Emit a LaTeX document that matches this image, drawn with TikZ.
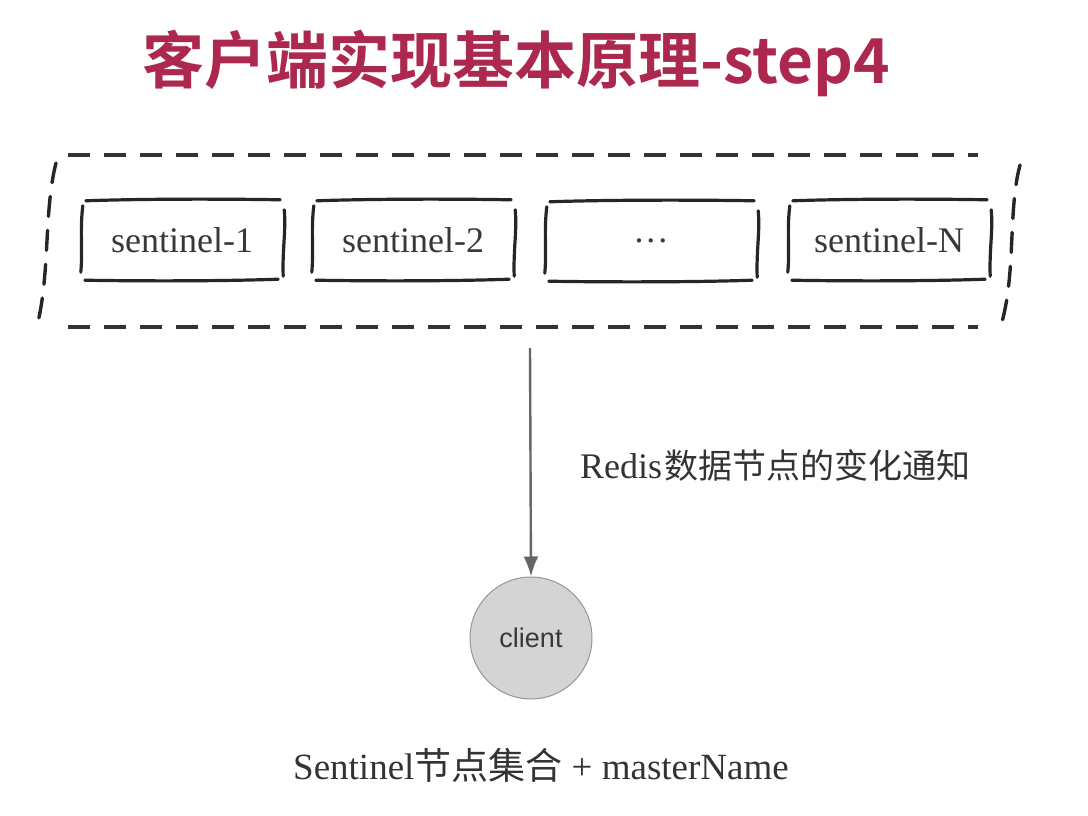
\documentclass[tikz,border=0pt]{standalone}
\usepackage{fontspec}
\usetikzlibrary{arrows.meta}
\setmainfont{Liberation Serif}
\newfontfamily\cjk{Noto Sans CJK SC}
\newfontfamily\cjkb{Noto Sans CJK SC Bold}
\newfontfamily\lsans{Liberation Sans}
\definecolor{titlered}{RGB}{172,40,78}
\definecolor{clientfill}{RGB}{212,212,212}
\definecolor{clientdraw}{RGB}{150,150,150}
\tikzset{
  sk/.style={line width=3.2pt, line cap=round, black!85},
  sbox/.style={minimum width=200pt, minimum height=80pt, inner sep=0pt,
    font=\fontsize{36}{40}\selectfont, text=black!78},
  dashedge/.style={line width=4pt, black!80, dash pattern=on 22pt off 14pt},
  dashside/.style={line width=3.4pt, black!85, dash pattern=on 20pt off 14pt, line cap=round},
  clientnode/.style={circle, fill=clientfill, draw=clientdraw, line width=1pt,
    minimum size=122pt, inner sep=0pt, font=\lsans\fontsize{27}{29}\selectfont, text=black!78},
  lbl/.style={inner sep=0pt, text=black!80}
}
\newcommand{\sketchbox}[1]{%
  \draw[sk] ([xshift=4pt,yshift=-1pt]#1.north west) .. controls ([xshift=60pt,yshift=1pt]#1.north west) and ([xshift=-60pt,yshift=1pt]#1.north east) .. ([xshift=-2pt]#1.north east);
  \draw[sk] ([xshift=3pt]#1.south west) .. controls ([xshift=60pt,yshift=-1pt]#1.south west) and ([xshift=-60pt,yshift=-1pt]#1.south east) .. ([xshift=-4pt,yshift=1pt]#1.south east);
  \draw[sk] ([xshift=1pt,yshift=-6pt]#1.north west) .. controls ([xshift=-2pt,yshift=-30pt]#1.north west) and ([xshift=1pt,yshift=30pt]#1.south west) .. ([xshift=-1pt,yshift=8pt]#1.south west);
  \draw[sk] ([xshift=2pt,yshift=-10pt]#1.north east) .. controls ([xshift=4pt,yshift=-30pt]#1.north east) and ([xshift=0pt,yshift=30pt]#1.south east) .. ([xshift=1pt,yshift=4pt]#1.south east);
}
\begin{document}
\begin{tikzpicture}[x=1pt,y=-1pt]
\useasboundingbox (0,0) rectangle (1088,816);
% title
\node[inner sep=0pt, text=titlered, anchor=west] (title) at (142,63)
  {\cjkb\fontsize{62}{66}\selectfont 客户端实现基本原理-step4};
% outer dashed group
\coordinate (gtl) at (68,155);
\coordinate (gtr) at (978,155);
\coordinate (gbl) at (68,327);
\coordinate (gbr) at (978,327);
\draw[dashedge] (gtl) -- (gtr);
\draw[dashedge] (gbl) -- (gbr);
\coordinate (gl1) at (56,163);
\coordinate (gl2) at (38,322);
\coordinate (gr1) at (1020,165);
\coordinate (gr2) at (1002,322);
\draw[dashside] (gl1) .. controls (44,210) and (50,270) .. (gl2);
\draw[dashside] (gr1) .. controls (1008,210) and (1016,270) .. (gr2);
% sentinel boxes
\node[sbox] (s1) at (182,240) {sentinel-1};
\node[sbox] (s2) at (413,240) {sentinel-2};
\node[sbox, minimum width=210pt] (s3) at (651,241) {.\hspace{3pt}.\hspace{3pt}.};
\node[sbox] (sN) at (889,240) {sentinel-N};
\sketchbox{s1}
\sketchbox{s2}
\sketchbox{s3}
\sketchbox{sN}
% client
\node[clientnode] (client) at (531,638) {client};
\coordinate (astart) at (530,348);
\draw[line width=2.4pt, black!60, -{Latex[length=20pt,width=15pt]}] (astart) -- (client.north) ;
% labels
\node[lbl, anchor=west] (note) at (580,465)
  {\fontsize{36}{40}\selectfont Redis\hspace{2pt}{\cjk\fontsize{34}{36}\selectfont 数据节点的变化通知}};
\node[lbl] (bottom) at (541,765)
  {\fontsize{37}{40}\selectfont Sentinel{\cjk\fontsize{37}{40}\selectfont 节点集合} + masterName};
\end{tikzpicture}
\end{document}
